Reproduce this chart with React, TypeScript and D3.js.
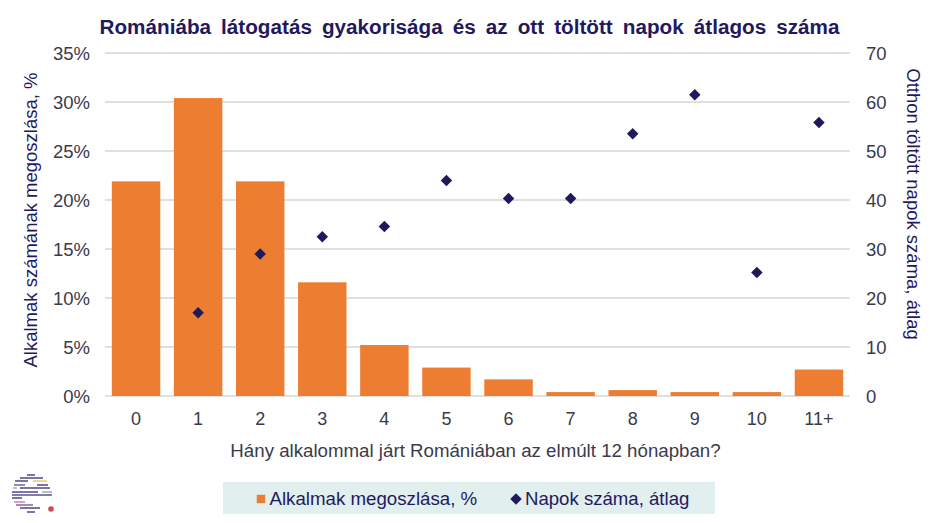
import React from "react";
import * as d3 from "d3";

const categories = ["0","1","2","3","4","5","6","7","8","9","10","11+"];
const shareValues = [21.9,30.4,21.9,11.6,5.2,2.9,1.7,0.4,0.6,0.4,0.4,2.7];
const dayValues = [null,17,29,32.5,34.6,44,40.3,40.3,53.5,61.5,25.2,55.8];
const leftTicks = [0,5,10,15,20,25,30,35];
const rightTicks = [0,10,20,30,40,50,60,70];
const titleText = "Romániába látogatás gyakorisága és az ott töltött napok átlagos száma";
const xTitle = "Hány alkalommal járt Romániában az elmúlt 12 hónapban?";
const leftTitle = "Alkalmak számának megoszlása, %";
const rightTitle = "Otthon töltött napok száma, átlag";
const legendBar = "Alkalmak megoszlása, %";
const legendDot = "Napok száma, átlag";
// logo stripes: [y, x1, x2, colour]
const logoLines: [number,number,number,string][] = [
  [475,27,35,"#5a5590"],[478,20,43,"#5a5090"],[481,15,28,"#5a5090"],[481,33,47,"#e8d080"],
  [485,14,25,"#7a6aa0"],[485,37,48,"#5a5090"],[488,13,17,"#98b8c0"],[488,20,50,"#5a5090"],
  [492,12,38,"#5a5590"],[492,42,52,"#98b8a0"],[495,12,52,"#5a5090"],[498,12,22,"#5a5090"],
  [502,14,25,"#d08aa0"],[505,16,33,"#8a70a0"],[508,20,40,"#5a5090"],[512,27,35,"#5a5590"],
];

const W = 936, H = 523;
const ink = "#1f1a5e", txt = "#3a3a4a", font = "'Liberation Sans', Arial, sans-serif";
const plot = { l: 105, r: 850, t: 53, b: 396 };

export default function App() {
  const x = d3.scaleBand<string>().domain(categories).range([plot.l, plot.r]).paddingInner(0.22).paddingOuter(0.11);
  const yL = d3.scaleLinear().domain([0,35]).range([plot.b, plot.t]);
  const yR = d3.scaleLinear().domain([0,70]).range([plot.b, plot.t]);
  const diamond = d3.symbol().type(d3.symbolSquare).size(66)();
  const square = d3.symbol().type(d3.symbolSquare).size(72)();
  return (
    <svg width={W} height={H} viewBox={`0 0 ${W} ${H}`}
      style={{ position: "absolute", left: 0, top: 0, background: "#fff", fontFamily: font }}>
      <text x={469.5} y={34} textAnchor="middle" fontSize={20.7} fontWeight={700} fill={ink} wordSpacing={4.3}>{titleText}</text>

      {leftTicks.map(t => (
        <line key={t} x1={plot.l} x2={plot.r} y1={yL(t)} y2={yL(t)} stroke="#d6d6d6" strokeWidth={1.5} />
      ))}
      {categories.map((c, i) => (
        <rect key={c} x={x(c)} y={yL(shareValues[i])} width={x.bandwidth()} height={plot.b - yL(shareValues[i])} fill="#ed7d31" />
      ))}
      {categories.map((c, i) => dayValues[i] == null ? null : (
        <path key={c} d={diamond!} transform={`translate(${x(c)! + x.bandwidth()/2},${yR(dayValues[i] as number)}) rotate(45)`} fill={ink} />
      ))}
      {leftTicks.map(t => (
        <text key={t} x={90} y={yL(t) + 6.5} textAnchor="end" fontSize={18.5} fill={txt}>{t}%</text>
      ))}
      {rightTicks.map(t => (
        <text key={t} x={866} y={yR(t) + 6.5} fontSize={18.5} fill={txt}>{t}</text>
      ))}
      {categories.map(c => (
        <text key={c} x={x(c)! + x.bandwidth()/2} y={425} textAnchor="middle" fontSize={18} fill={txt}>{c}</text>
      ))}
      <text x={475.5} y={457} textAnchor="middle" fontSize={18.7} fill={txt}>{xTitle}</text>
      <text transform="translate(37,220) rotate(-90)" textAnchor="middle" fontSize={18.5} fill={ink}>{leftTitle}</text>
      <text transform="translate(907,204) rotate(90)" textAnchor="middle" fontSize={18.5} fill={ink}>{rightTitle}</text>

      <rect x={223} y={482} width={492} height={32} fill="#e1f0ee" />
      <path d={square!} transform="translate(261,499)" fill="#ed7d31" />
      <text x={269.5} y={505} fontSize={18.7} fill={ink}>{legendBar}</text>
      <path d={diamond!} transform="translate(516,499) rotate(45)" fill={ink} />
      <text x={525} y={505} fontSize={18.6} fill={ink}>{legendDot}</text>

      {logoLines.map(([y, a, b, c], i) => (
        <line key={i} x1={a} x2={b} y1={y} y2={y} stroke={c} strokeWidth={1.6} />
      ))}
      <circle cx={51} cy={509} r={2.8} fill="#d04a55" />
    </svg>
  );
}
